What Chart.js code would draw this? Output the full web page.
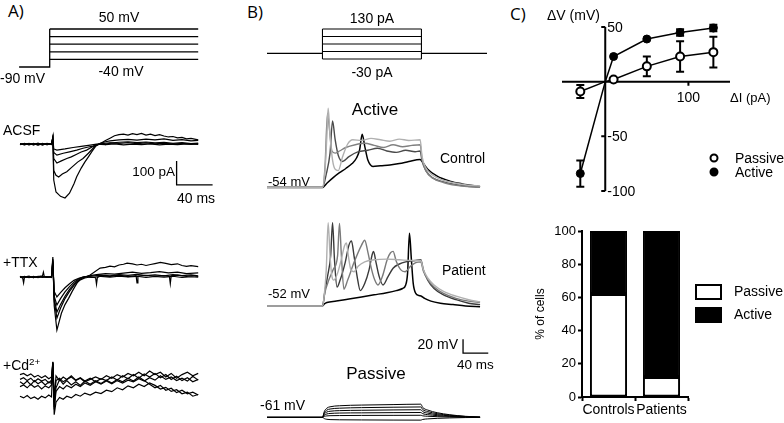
<!DOCTYPE html>
<html>
<head>
<meta charset="utf-8">
<script src="https://cdn.jsdelivr.net/npm/chart.js@4.4.1/dist/chart.umd.min.js"></script>
<style>
  body { margin: 0; width: 784px; height: 423px; background: #fff; position: relative; overflow: hidden;
         font-family: "Liberation Sans", Arial, sans-serif; color: #000; }
  canvas { position: absolute; }
  .t { position: absolute; white-space: nowrap; line-height: 1; }
  .t sup { font-size: 70%; vertical-align: 0.55em; line-height: 0; }
</style>
</head>
<body>
<script>
const FONT = '"Liberation Sans", Arial, sans-serif';

// ---------- A) voltage protocol (ms, mV) ----------
const protoALevels = [50, 27.5, 5, -17.5, -40];
const protoAHold = -90;
const protoAStart = -1, protoAStep = 33, protoAEnd = 198;

// ---------- A) current traces (ms, pA) ----------
const acsf1 = [[0,2],[5,-3],[10,3],[15,-2],[20,4],[25,-3],[30,2],[35,0],[36.5,30],[37.5,-150],[40,-200],[45,-218],[50,-225],[55,-205],[60,-165],[63,-136],[68,-100],[72,-75],[76,-53],[80,-30],[85,-4],[90,3],[95,-2],[100,4],[110,8],[120,10],[130,6],[140,9],[150,5],[160,8],[170,3],[180,6],[190,2],[198,4]];
const acsf2 = [[0,-2],[5,3],[10,-3],[15,2],[20,-4],[25,3],[30,-2],[35,1],[36.5,28],[37.5,-110],[40,-130],[43,-137],[47,-125],[52,-115],[58,-95],[64,-75],[70,-60],[76,-38],[83,-10],[88,0],[95,15],[100,25],[105,35],[110,40],[115,42],[120,38],[125,44],[130,40],[135,45],[140,38],[145,42],[150,36],[155,40],[160,34],[165,30],[170,32],[175,26],[180,28],[185,22],[190,24],[198,18]];
const acsf3 = [[0,1],[5,-2],[10,2],[15,-3],[20,2],[25,-2],[30,3],[35,-1],[36.5,25],[37.5,-60],[41,-79],[46,-70],[52,-60],[57,-53],[63,-42],[68,-33],[74,-25],[80,-12],[85,-3],[90,5],[95,10],[100,14],[110,18],[120,20],[130,17],[140,21],[150,18],[160,22],[170,16],[180,19],[190,14],[198,16]];
const acsf4 = [[0,-1],[5,2],[10,-2],[15,3],[20,-3],[25,2],[30,-2],[35,1],[36.5,24],[37.5,-35],[41,-46],[48,-38],[55,-32],[63,-25],[70,-17],[76,-12],[81,-8],[86,-2],[90,2],[100,5],[110,3],[120,6],[130,2],[140,5],[150,1],[160,4],[170,0],[180,3],[190,-1],[198,2]];
const acsf5 = [[0,0],[5,-1],[10,2],[15,-2],[20,1],[25,-3],[30,2],[35,-2],[36.5,26],[37.5,-20],[41,-25],[50,-20],[59,-14],[68,-9],[78,-4],[85,0],[95,-2],[105,1],[115,-3],[125,0],[135,-2],[145,1],[155,-3],[165,0],[175,-2],[185,1],[198,-1]];

const ttx1 = [[0,3],[3,-5],[4,-25],[5,0],[10,4],[15,-3],[20,2],[25,5],[26,20],[27,2],[30,-2],[35,3],[36.5,83],[38,-120],[41,-221],[46,-151],[50,-115],[54,-89],[58,-60],[61,-40],[64,-22],[67,-12],[72,-4],[78,0],[84,-3],[85,-30],[86,-2],[90,5],[100,3],[110,8],[120,2],[129,6],[130,-25],[131,4],[140,7],[150,3],[160,6],[166,2],[167,-28],[168,5],[175,8],[185,3],[192,6],[198,2]];
const ttx2 = [[0,-2],[5,3],[10,-3],[15,2],[20,-2],[25,3],[30,-1],[35,2],[36.5,75],[38,-100],[41,-171],[45,-130],[50,-90],[55,-60],[60,-35],[65,-15],[70,-3],[78,8],[89,37],[95,40],[100,45],[105,42],[110,50],[115,53],[119,58],[125,55],[130,50],[135,53],[140,48],[145,52],[150,56],[156,61],[162,57],[168,52],[175,55],[180,48],[185,44],[190,47],[198,43]];
const ttx3 = [[0,1],[5,-3],[10,2],[15,-2],[20,3],[25,-1],[30,2],[35,-2],[36.5,70],[38,-90],[41,-146],[45,-115],[50,-80],[55,-52],[60,-30],[65,-12],[70,-2],[78,6],[85,10],[95,14],[105,12],[115,16],[125,20],[135,15],[145,18],[155,22],[165,17],[175,20],[185,14],[198,17]];
const ttx4 = [[0,-1],[5,2],[10,-2],[15,3],[20,-3],[25,2],[30,-2],[35,1],[36.5,65],[38,-80],[41,-117],[45,-90],[50,-62],[55,-40],[60,-22],[65,-8],[70,0],[80,4],[90,8],[100,5],[110,10],[120,7],[130,11],[140,6],[150,9],[160,5],[170,10],[180,6],[190,9],[198,5]];
const ttx5 = [[0,2],[5,-2],[10,1],[15,-3],[20,2],[25,-2],[30,1],[35,-1],[36.5,60],[38,-60],[41,-83],[45,-65],[50,-45],[55,-28],[60,-14],[66,-4],[72,2],[80,-2],[90,3],[100,-1],[110,4],[120,0],[130,3],[140,-2],[150,2],[160,-1],[170,3],[180,-2],[190,1],[198,-1]];

const cd1 = [[0,35],[4,40],[8,30],[12,38],[16,25],[20,32],[24,22],[28,30],[32,18],[35,25],[36.5,88],[38,-60],[40,10],[44,20],[48,5],[52,15],[57,25],[62,10],[67,20],[72,5],[78,15],[84,25],[90,15],[96,30],[102,20],[108,35],[114,25],[120,40],[126,30],[132,45],[138,30],[144,50],[150,35],[156,45],[162,25],[168,40],[174,20],[180,35],[186,45],[192,30],[198,40]];
const cd2 = [[0,-55],[4,-62],[8,-52],[12,-65],[16,-58],[20,-68],[24,-55],[28,-62],[32,-50],[35,-58],[36.5,80],[38,-132],[40,-80],[44,-60],[48,-68],[52,-55],[57,-62],[62,-48],[67,-55],[72,-42],[78,-50],[84,-38],[90,-44],[96,-30],[102,-36],[108,-20],[114,-28],[120,-12],[126,-20],[132,-5],[138,-15],[144,0],[150,-10],[156,-25],[162,-18],[168,-35],[174,-28],[180,-45],[186,-38],[192,-55],[198,-48]];
const cd3 = [[0,5],[4,-5],[8,8],[12,-8],[16,10],[20,-3],[24,6],[28,-8],[32,4],[35,-2],[36.5,85],[38,-100],[40,-20],[44,15],[48,-5],[52,10],[57,-8],[62,5],[67,-10],[72,8],[78,-5],[84,10],[90,-2],[96,12],[102,0],[108,15],[114,5],[120,20],[126,8],[132,25],[138,10],[144,-5],[150,-20],[156,-10],[162,-30],[168,-22],[174,-40],[180,-30],[186,-45],[192,-38],[198,-50]];
const cd4 = [[0,15],[4,22],[8,10],[12,20],[16,5],[20,18],[24,8],[28,15],[32,0],[35,12],[36.5,86],[38,-80],[40,30],[44,10],[48,25],[52,15],[57,30],[62,12],[67,22],[72,8],[78,20],[84,5],[90,18],[96,10],[102,25],[108,12],[114,30],[120,18],[126,35],[132,20],[138,38],[144,25],[150,40],[156,22],[162,35],[168,15],[174,28],[180,10],[186,22],[192,5],[198,15]];
const cd5 = [[0,-15],[4,-8],[8,-20],[12,-5],[16,-18],[20,-10],[24,-25],[28,-12],[32,-20],[35,-8],[36.5,84],[38,-110],[40,-35],[44,-15],[48,-25],[52,-10],[57,-20],[62,-5],[67,-15],[72,0],[78,-10],[84,5],[90,-5],[96,8],[102,-3],[108,10],[114,0],[120,12],[126,5],[132,18],[138,8],[144,22],[150,12],[156,30],[162,15],[168,25],[174,10],[180,20],[186,8],[192,28],[198,12]];

// scale bar A: 100 pA / 40 ms
const barA = [[174,-70],[174,-170],[214,-170]];

// ---------- B) current protocol (ms, pA) ----------
const protoBLevels = [130, 90, 50, 10, -30];
const protoBStart = 0, protoBOn = 88, protoBOff = 245, protoBEnd = 349;

// ---------- B) voltage traces (ms, mV) ----------
const ctrlLight = [[0,-54],[88,-54],[92,-30],[95,20],[97,59],[100,20],[104,-15],[108,-28],[113,-30],[120,-10],[128,8],[136,14],[150,13],[165,16],[180,14],[195,12],[210,15],[225,13],[243,14],[246,-10],[252,-26],[262,-36],[280,-44],[300,-48],[320,-51],[338,-52]];
const ctrlMid = [[0,-54],[88,-54],[92,-25],[96,52],[99,30],[103,-2],[108,-5],[115,-2],[125,3],[140,7],[155,9],[170,6],[185,3],[200,7],[215,4],[230,6],[243,7],[246,-14],[252,-30],[262,-40],[280,-47],[300,-51],[320,-53],[338,-54]];
const ctrlDark = [[0,-54],[88,-54],[94,-35],[100,-5],[104,41],[108,15],[113,-8],[120,-17],[130,-10],[145,-3],[160,-1],[175,2],[190,-2],[205,-4],[220,-1],[235,-3],[243,-2],[246,-16],[252,-30],[262,-40],[280,-46],[300,-50],[320,-52],[338,-53]];
const ctrlBlack = [[0,-54],[88,-54],[95,-48],[105,-40],[115,-33],[125,-27],[135,-20],[142,-12],[147,0],[151,22],[155,5],[160,-15],[168,-24],[180,-23],[195,-22],[210,-20],[225,-17],[243,-14],[246,-17],[255,-28],[270,-38],[290,-45],[310,-49],[338,-53]];

const patLight = [[0,-52],[88,-52],[91,-35],[94,0],[97,67],[100,20],[103,-10],[106,-15],[112,-5],[118,15],[123,34],[126,38],[129,20],[133,0],[138,-3],[145,5],[155,11],[170,14],[190,15],[210,14],[230,13],[244,13],[248,0],[255,-12],[265,-22],[280,-31],[300,-38],[320,-43],[338,-46]];
const patDark = [[0,-52],[88,-52],[92,-30],[96,-10],[101,20],[104,67],[107,15],[111,-25],[116,-15],[124,10],[130,35],[134,41],[138,20],[143,-10],[148,-30],[155,-20],[162,0],[167,22],[169,26],[173,10],[178,-10],[184,-22],[192,-10],[200,2],[210,8],[220,11],[235,13],[244,14],[248,0],[255,-15],[265,-27],[280,-36],[300,-43],[320,-48],[338,-50]];
const patMid = [[0,-52],[88,-52],[92,-32],[98,-15],[105,0],[112,20],[115,66],[118,20],[122,-28],[128,-15],[138,10],[150,35],[155,42],[160,25],[166,0],[171,-15],[176,-22],[183,-10],[191,15],[196,24],[200,26],[205,12],[212,0],[219,-3],[228,5],[236,10],[244,11],[248,-2],[255,-14],[265,-25],[280,-34],[300,-41],[320,-45],[338,-47]];
const patBlack = [[0,-52],[88,-52],[91,-49],[95,-47],[110,-45],[130,-42],[150,-39],[170,-36],[190,-33],[205,-30],[215,-27],[220,-22],[223,-5],[226,52],[229,15],[232,-20],[236,-34],[241,-37],[245,-38],[250,-41],[260,-45],[275,-48],[295,-50],[315,-52],[338,-53]];

const passiveT = [0,88,91,95,100,115,150,200,244,247,255,270,290,315,338];
const passive1 = [-61,-61,-52.4,-47.7,-45.8,-44.3,-43.3,-42.6,-42,-46.7,-50.5,-54.3,-57.2,-59.5,-60.6];
const passive2 = [-61,-61,-54.2,-50.5,-49,-47.8,-47,-46.4,-46,-49.7,-52.7,-55.7,-58,-59.8,-60.7];
const passive3 = [-61,-61,-56,-53.3,-52.2,-51.3,-50.8,-50.3,-50,-52.7,-54.9,-57.1,-58.8,-60.1,-60.8];
const passive4 = [-61,-61,-57.8,-56.1,-55.4,-54.8,-54.5,-54.2,-54,-55.7,-57.1,-58.5,-59.6,-60.4,-60.9];
const passive5 = [-61,-61,-59.6,-58.9,-58.6,-58.4,-58.2,-58.1,-58,-58.8,-59.4,-60,-60.4,-60.8,-61];
const passive6 = [-61,-61,-62.8,-63.8,-64.2,-64.5,-64.7,-64.9,-65,-64,-63.2,-62.4,-61.8,-61.3,-61.1];

// scale bar B: 20 mV / 40 ms
const barB = [[311,24],[311,4],[351,4]];

// ---------- C) I-V relation ----------
const ivCurrents = [-30, 0, 10, 50, 90, 130];
const passiveDV = [-9, 0, 2, 14, 23, 27];
const passiveErr = [6, 0, 0, 9, 14, 14];
const activeDV = [-84, 0, 23, 39, 45, 49];
const activeErr = [12, 0, 0, 0, 3, 3];
const ivYTicks = [50, -50, -100];
const ivXTicks = [100];

// ---------- C) proportions ----------
const barCats = ['Controls', 'Patients'];
const passivePct = [62, 12];
const activePct = [38, 88];

// ---------- helpers ----------
function txt(html, x, y, size, align, extra) {
  const d = document.createElement('div');
  d.className = 't';
  d.innerHTML = html;
  d.style.left = x + 'px';
  d.style.top = y + 'px';
  d.style.fontSize = size + 'px';
  const tx = align === 'c' ? '-50%' : align === 'r' ? '-100%' : '0';
  d.style.transform = 'translate(' + tx + ',-50%)';
  if (extra) d.style.cssText += extra;
  document.body.appendChild(d);
}

function makeCanvas(l, t, w, h) {
  const cv = document.createElement('canvas');
  cv.width = w; cv.height = h;
  cv.style.left = l + 'px'; cv.style.top = t + 'px';
  document.body.appendChild(cv);
  return cv;
}

function line(pts, color, w, smooth) {
  return { data: pts, borderColor: color || '#000', borderWidth: w || 1.2, pointRadius: 0,
           clip: false, fill: false, tension: 0, cubicInterpolationMode: smooth ? 'monotone' : 'default' };
}

// trace chart: area = [left, top, width, height] of the plotting box on the page
function traceChart(area, xr, yr, datasets, yScale) {
  const pad = 6;
  const cv = makeCanvas(area[0] - pad, area[1] - pad, area[2] + 2 * pad, area[3] + 2 * pad);
  return new Chart(cv, {
    type: 'line',
    data: { datasets },
    options: {
      responsive: false, animation: false, events: [],
      layout: { padding: pad },
      plugins: { legend: { display: false }, tooltip: { enabled: false } },
      scales: {
        x: { type: 'linear', display: false, min: xr[0], max: xr[1] },
        y: yScale || { type: 'linear', display: false, min: yr[0], max: yr[1] }
      }
    }
  });
}

// ---------- A ----------
const protoALabels = protoALevels.concat([protoAHold]).map(String);
traceChart([20, 29, 198, 38], [0, 220], null, [
  line([{x: protoAStart, y: String(protoAHold)}, {x: protoAStep, y: String(protoAHold)}, {x: protoAStep, y: String(protoALevels[0])}], '#000', 1.3),
  ...protoALevels.map(v => line([{x: protoAStep, y: String(v)}, {x: protoAEnd, y: String(v)}], '#000', 1.3))
], { type: 'category', labels: protoALabels, display: false });

traceChart([20, 125, 198, 79], [0, 220], [-250, 80],
  [acsf1, acsf2, acsf3, acsf4, acsf5].map(p => line(p, '#000', 1.2)).concat([line(barA, '#000', 1.3)]));
traceChart([20, 253, 198, 84], [0, 220], [-250, 100],
  [ttx1, ttx2, ttx3, ttx4, ttx5].map(p => line(p, '#000', 1.2)));
traceChart([20, 359, 198, 60], [0, 220], [-150, 100],
  [cd1, cd2, cd3, cd4, cd5].map(p => line(p, '#000', 1.2)));

txt('A)', 8, 10, 17, 'l', 'font-family:"Open Sans",sans-serif;');
txt('50 mV', 119, 17, 14, 'c');
txt('-40 mV', 121, 71, 14, 'c');
txt('-90 mV', 0, 78, 14, 'l');
txt('ACSF', 3, 130, 14, 'l');
txt('100 pA', 175, 172, 13.5, 'r');
txt('40 ms', 177, 198, 14, 'l');
txt('+TTX', 3, 262, 14, 'l');
txt('+Cd<sup>2+</sup>', 3, 365, 14, 'l');

// ---------- B ----------
const bArea = (top, h) => [267, top, 220, h];
traceChart(bArea(29, 30), [0, 349], [-30, 130], [
  line([[protoBStart, 0], [protoBOn, 0]], '#000', 1.3),
  line([[protoBOff, 0], [protoBEnd, 0]], '#000', 1.3),
  line([[protoBOn, protoBLevels[protoBLevels.length - 1]], [protoBOn, protoBLevels[0]]], '#000', 1.1),
  line([[protoBOff, protoBLevels[protoBLevels.length - 1]], [protoBOff, protoBLevels[0]]], '#000', 1.1),
  ...protoBLevels.map(v => line([[protoBOn, v], [protoBOff, v]], '#000', 1.1))
]);

traceChart(bArea(95, 105), [0, 349], [-72, 78], [
  line(ctrlLight, '#b0b0b0', 1.4, true), line(ctrlMid, '#808080', 1.4, true),
  line(ctrlDark, '#4a4a4a', 1.4, true), line(ctrlBlack, '#000', 1.5, true)
]);
traceChart(bArea(215, 105), [0, 349], [-72, 78], [
  line(patLight, '#b0b0b0', 1.4, true), line(patMid, '#7a7a7a', 1.4, true),
  line(patDark, '#3a3a3a', 1.4, true), line(patBlack, '#000', 1.5, true)
]);
traceChart(bArea(400, 25), [0, 349], [-72, -36],
  [passive1, passive2, passive3, passive4, passive5, passive6].map(v =>
    line(passiveT.map((t, i) => [t, v[i]]), '#000', 1, true)));
traceChart(bArea(335, 21), [0, 349], [0, 30], [line(barB, '#000', 1.3)]);

txt('B)', 247, 11, 17, 'l', 'font-family:"Open Sans",sans-serif;');
txt('130 pA', 372, 18, 14, 'c');
txt('-30 pA', 372, 72, 14, 'c');
txt('Active', 375, 109, 17, 'c');
txt('Control', 440, 158, 14, 'l');
txt('-54 mV', 268, 181, 13, 'l');
txt('Patient', 442, 270, 14, 'l');
txt('-52 mV', 268, 293, 13, 'l');
txt('20 mV', 458, 344, 14, 'r');
txt('40 ms', 457, 365, 13.5, 'l');
txt('Passive', 376, 373, 17, 'c');
txt('-61 mV', 260, 405, 14, 'l');

// ---------- C) I-V ----------
const IV = { l: 562, t: 27, w: 168, h: 164, pl: 14, pt: 14, pr: 54, pb: 14 };
const ivCanvas = makeCanvas(IV.l - IV.pl, IV.t - IV.pt, IV.w + IV.pl + IV.pr, IV.h + IV.pt + IV.pb);

const ivAxes = {
  id: 'ivAxes',
  beforeDatasetsDraw(chart) {
    const { ctx, scales: { x, y } } = chart;
    const x0 = x.getPixelForValue(0), y0 = y.getPixelForValue(0);
    ctx.save();
    ctx.strokeStyle = '#000';
    ctx.lineWidth = 2;
    ctx.beginPath();
    ctx.moveTo(x.getPixelForValue(x.min), y0); ctx.lineTo(x.getPixelForValue(x.max), y0);
    ctx.moveTo(x0, y.getPixelForValue(y.min)); ctx.lineTo(x0, y.getPixelForValue(y.max));
    ivYTicks.forEach(v => { const py = y.getPixelForValue(v); ctx.moveTo(x0 - 4, py); ctx.lineTo(x0, py); });
    ivXTicks.forEach(v => { const px = x.getPixelForValue(v); ctx.moveTo(px, y0); ctx.lineTo(px, y0 + 4); });
    ctx.stroke();
    // error bars
    [[passiveDV, passiveErr], [activeDV, activeErr]].forEach(([vals, errs]) => {
      vals.forEach((v, i) => {
        if (!errs[i]) return;
        const px = x.getPixelForValue(ivCurrents[i]);
        const hi = y.getPixelForValue(v + errs[i]), lo = y.getPixelForValue(v - errs[i]);
        ctx.beginPath();
        ctx.moveTo(px, hi); ctx.lineTo(px, lo);
        ctx.moveTo(px - 4, hi); ctx.lineTo(px + 4, hi);
        ctx.moveTo(px - 4, lo); ctx.lineTo(px + 4, lo);
        ctx.stroke();
      });
    });
    ctx.fillStyle = '#000';
    ctx.font = '14px ' + FONT;
    ctx.textBaseline = 'middle';
    ctx.textAlign = 'left';
    ivYTicks.forEach(v => ctx.fillText(String(v), x0 + 2, y.getPixelForValue(v) + 1));
    ctx.textAlign = 'center';
    ivXTicks.forEach(v => ctx.fillText(String(v), x.getPixelForValue(v), y0 + 16));
    ctx.restore();
  },
  afterDatasetsDraw(chart) {
    const { ctx } = chart;
    const ox = IV.l - IV.pl, oy = IV.t - IV.pt;
    ctx.save();
    ctx.font = '14px ' + FONT;
    ctx.textBaseline = 'middle';
    ctx.textAlign = 'left';
    chart.data.datasets.forEach((ds, i) => {
      const cy = [158, 172][i] - oy;
      ctx.beginPath();
      ctx.arc(714 - ox, cy, 3.5, 0, Math.PI * 2);
      ctx.fillStyle = ds.pointBackgroundColor;
      ctx.fill();
      ctx.lineWidth = 2;
      ctx.strokeStyle = '#000';
      ctx.stroke();
      ctx.fillStyle = '#000';
      ctx.fillText(ds.label, 735 - ox, cy + 1);
    });
    ctx.restore();
  }
};

const ivPoint = (vals) => ivCurrents.map((c, i) => ({ x: c, y: vals[i] }));
const ivRadius = ivCurrents.map(c => (c === 0 ? 0 : 4));
new Chart(ivCanvas, {
  type: 'line',
  data: {
    datasets: [
      { label: 'Passive', data: ivPoint(passiveDV), borderColor: '#000', borderWidth: 1.5,
        pointRadius: ivRadius, pointBackgroundColor: '#fff', pointBorderColor: '#000', pointBorderWidth: 2,
        tension: 0, clip: false, fill: false },
      { label: 'Active', data: ivPoint(activeDV), borderColor: '#000', borderWidth: 1.5,
        pointRadius: ivRadius, pointBackgroundColor: '#000', pointBorderColor: '#000', pointBorderWidth: 1,
        tension: 0, clip: false, fill: false }
    ]
  },
  options: {
    responsive: false, animation: false, events: [],
    layout: { padding: { left: IV.pl, top: IV.pt, right: IV.pr, bottom: IV.pb } },
    plugins: { legend: { display: false }, tooltip: { enabled: false } },
    scales: {
      x: { type: 'linear', display: false, min: -52, max: 150 },
      y: { type: 'linear', display: false, min: -100, max: 50 }
    }
  },
  plugins: [ivAxes]
});

txt('C)', 510, 13, 17, 'l', 'font-family:"Open Sans",sans-serif;');
txt('&Delta;V (mV)', 547, 15, 14, 'l');
txt('&Delta;I (pA)', 730, 97, 13, 'l');

// ---------- C) stacked bars ----------
const BAR = { l: 525, t: 220, w: 259, h: 203 };
const barCanvas = makeCanvas(BAR.l, BAR.t, BAR.w, BAR.h);
const barLegend = {
  id: 'barLegend',
  afterDraw(chart) {
    const { ctx } = chart;
    ctx.save();
    ctx.font = '14px ' + FONT;
    ctx.textBaseline = 'middle';
    ctx.textAlign = 'left';
    chart.data.datasets.forEach((ds, i) => {
      const top = [284, 307][i] - BAR.t;
      ctx.fillStyle = ds.backgroundColor;
      ctx.fillRect(696 - BAR.l, top + 1, 25, 14);
      ctx.lineWidth = 2;
      ctx.strokeStyle = '#000';
      ctx.strokeRect(696 - BAR.l, top + 1, 25, 14);
      ctx.fillStyle = '#000';
      ctx.fillText(ds.label, 734 - BAR.l, top + 8);
    });
    ctx.restore();
  }
};
const axisStyle = {
  grid: { display: true, drawOnChartArea: false, drawTicks: true, tickLength: 4, tickColor: '#000', tickWidth: 2 },
  border: { display: true, color: '#000', width: 2 }
};
new Chart(barCanvas, {
  type: 'bar',
  data: {
    labels: barCats,
    datasets: [
      { label: 'Passive', data: passivePct, backgroundColor: '#fff', borderColor: '#000', borderWidth: 2, borderSkipped: false },
      { label: 'Active', data: activePct, backgroundColor: '#000', borderColor: '#000', borderWidth: 2, borderSkipped: false }
    ]
  },
  options: {
    responsive: false, animation: false, events: [],
    layout: { padding: { left: 0, top: 11, right: 96, bottom: 0 } },
    datasets: { bar: { categoryPercentage: 1, barPercentage: 0.7 } },
    plugins: { legend: { display: false }, tooltip: { enabled: false } },
    scales: {
      x: Object.assign({ stacked: true, afterFit(s) { s.height = 26; },
        ticks: { color: '#000', font: { family: FONT, size: 14 }, padding: 1,
                 maxRotation: 0, minRotation: 0, autoSkip: false } }, axisStyle),
      y: Object.assign({ stacked: true, min: 0, max: 100, afterFit(s) { s.width = 57; },
        ticks: { stepSize: 20, color: '#000', font: { family: FONT, size: 13 }, padding: 2 },
        title: { display: true, text: '% of cells', color: '#000', font: { family: FONT, size: 12 }, padding: { top: 8, bottom: 0 } } }, axisStyle)
    }
  },
  plugins: [barLegend]
});
</script>
</body>
</html>
